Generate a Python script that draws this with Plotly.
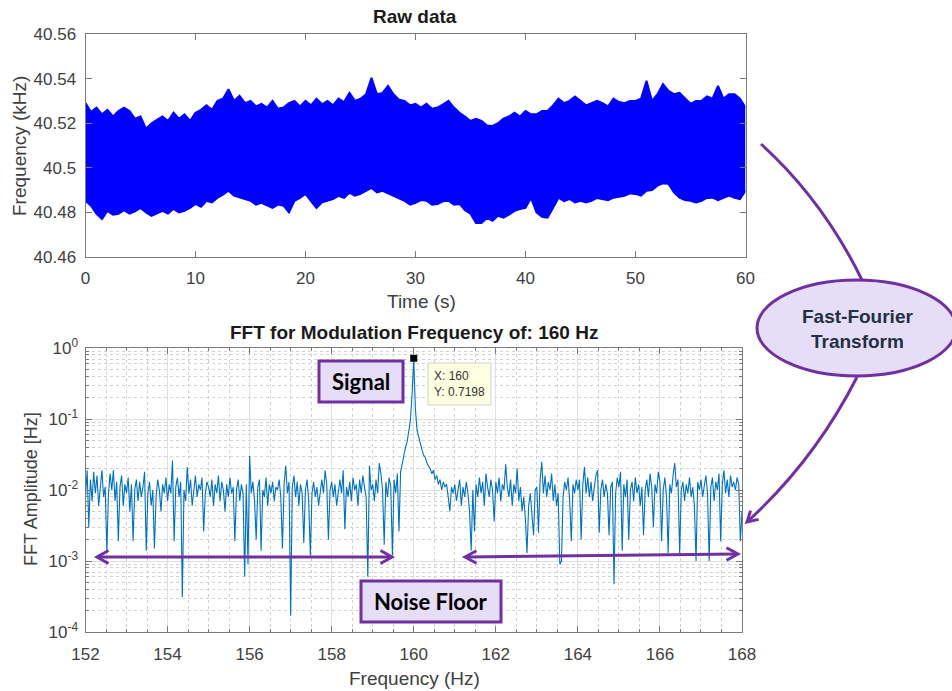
import numpy as np
import plotly.graph_objects as go

W, H = 952, 691

# ---------------- data: raw frequency record (envelope of the dense trace) -------------
raw_time_step = 0.5  # s
raw_upper = [
    40.529, 40.525, 40.527, 40.524, 40.526, 40.523, 40.5255, 40.527, 40.5255, 40.522,
    40.523, 40.5175, 40.520, 40.5215, 40.523, 40.521, 40.5247, 40.522, 40.524, 40.521,
    40.5247, 40.526, 40.528, 40.526, 40.530, 40.531, 40.5352, 40.530, 40.5323, 40.529,
    40.530, 40.5275, 40.5287, 40.527, 40.530, 40.5265, 40.527, 40.529, 40.530, 40.5275,
    40.530, 40.528, 40.531, 40.5285, 40.530, 40.528, 40.531, 40.5295, 40.5336, 40.530,
    40.531, 40.533, 40.5404, 40.533, 40.5336, 40.5367, 40.533, 40.5305, 40.530, 40.528,
    40.5287, 40.527, 40.5287, 40.5265, 40.527, 40.5285, 40.530, 40.527, 40.5247, 40.523,
    40.521, 40.522, 40.521, 40.519, 40.5188, 40.520, 40.522, 40.523, 40.5247, 40.523,
    40.5255, 40.524, 40.524, 40.5255, 40.5255, 40.528, 40.531, 40.529, 40.530, 40.532,
    40.530, 40.528, 40.529, 40.530, 40.529, 40.5275, 40.531, 40.5295, 40.529, 40.530,
    40.530, 40.531, 40.539, 40.530, 40.533, 40.5376, 40.5345, 40.533, 40.5336, 40.531,
    40.5287, 40.530, 40.530, 40.532, 40.531, 40.5367, 40.531, 40.533, 40.533, 40.531,
    40.527,
]
raw_lower = [
    40.4852, 40.483, 40.4794, 40.4771, 40.4807, 40.479, 40.4794, 40.481, 40.4794, 40.4805,
    40.482, 40.480, 40.4785, 40.4795, 40.4807, 40.4795, 40.4816, 40.480, 40.4807, 40.482,
    40.4838, 40.4825, 40.4852, 40.4845, 40.4866, 40.488, 40.4897, 40.4875, 40.4866, 40.486,
    40.4852, 40.4835, 40.4843, 40.483, 40.482, 40.4835, 40.483, 40.480, 40.4852, 40.4865,
    40.4883, 40.485, 40.482, 40.4845, 40.4852, 40.486, 40.4874, 40.4865, 40.4888, 40.4875,
    40.4883, 40.4895, 40.491, 40.489, 40.4897, 40.4885, 40.4874, 40.486, 40.4852, 40.4835,
    40.4843, 40.4855, 40.4852, 40.4835, 40.4838, 40.485, 40.4852, 40.4835, 40.4838, 40.481,
    40.4794, 40.4753, 40.4753, 40.4775, 40.4762, 40.4785, 40.4776, 40.479, 40.4807, 40.4815,
    40.482, 40.4865, 40.480, 40.478, 40.4776, 40.482, 40.4866, 40.485, 40.486, 40.4845,
    40.4852, 40.4845, 40.4852, 40.4865, 40.486, 40.4855, 40.4866, 40.487, 40.4874, 40.4885,
    40.4883, 40.4875, 40.4897, 40.490, 40.492, 40.493, 40.4928, 40.489, 40.4866, 40.4855,
    40.4852, 40.4845, 40.4852, 40.4865, 40.4866, 40.4855, 40.4866, 40.4875, 40.4866, 40.486,
    40.4897,
]
raw_time = [round(i * raw_time_step, 3) for i in range(len(raw_upper))]

# ---------------- data: FFT amplitude (x 1e-3 Hz), 0.04 Hz bins from 152 Hz -------------
fft_f0, fft_df = 152.0, 0.04
fft_milli = (
    [8, 19, 3, 14, 7, 18, 9, 16, 6, 12, 19, 8, 11, 1.3, 9, 17, 10, 19, 7, 13, 1.9, 11, 16, 6, 12]
    + [9, 15, 5, 12, 1.9, 10, 14, 7, 13, 8, 11, 18, 1.4, 9, 13, 6, 10, 1.5, 8, 14, 10, 5, 12, 9, 15]
    + [7, 12, 9, 26, 1.9, 11, 15, 8, 13, 0.31, 10, 7, 21, 9, 14, 6, 11, 16, 8, 12, 10, 15, 2.6, 9, 13]
    + [11, 8, 14, 6, 12, 9, 16, 7, 13, 10, 5, 12, 8, 15, 9, 11, 1.9, 10, 14, 7, 12, 9, 0.6, 12, 0.9]
    + [30, 9, 13, 7, 2.0, 11, 14, 1.4, 10, 8, 15, 6, 12, 9, 13, 7, 11, 10, 14, 8, 1.5, 12, 22, 9, 13]
    + [0.17, 11, 16, 8, 13, 6, 12, 9, 1.8, 10, 14, 7, 1.2, 9, 13, 8, 11, 6, 10, 14, 9, 19, 12, 2.0, 10]
    + [13, 8, 12, 6, 10, 14, 9, 19, 2.8, 11, 8, 13, 7, 15, 10, 12, 6, 14, 9, 16, 11, 8, 0.6, 22, 10]
    + [12, 7, 14, 9, 24, 17, 10, 1.7, 13, 8, 15, 11, 1.2, 14, 9, 17, 2.6, 18, 24, 28, 40, 48, 72, 98, 230]
    + [719.8, 140, 70, 56, 44, 37, 31, 29, 24, 22, 20, 17, 19, 14, 16, 12, 14, 10, 13, 11, 12, 8, 5, 11, 9]
    + [12, 7, 10, 14, 6, 11, 8, 13, 9, 5, 1.4, 10, 2.6, 12, 8, 15, 9, 13, 6, 17, 11, 8, 14, 10, 3.6]
    + [13, 9, 15, 7, 12, 10, 23, 11, 8, 14, 6, 12, 9, 20, 7, 11, 5, 8, 4, 1.3, 6, 9, 4, 2.3, 10]
    + [11, 2.5, 14, 25, 9, 16, 8, 13, 10, 17, 7, 12, 6, 9, 0.9, 1.0, 8, 13, 10, 15, 7, 1.9, 12, 9, 14]
    + [10, 14, 2.0, 12, 21, 9, 15, 8, 13, 7, 11, 16, 19, 2.5, 10, 14, 8, 12, 9, 2.3, 11, 13, 0.47, 9, 15]
    + [11, 18, 1.4, 12, 8, 14, 2.0, 10, 13, 7, 15, 9, 12, 6, 11, 2.3, 10, 14, 8, 17, 11, 3.0, 12, 9, 18]
    + [13, 1.9, 10, 15, 8, 1.3, 12, 9, 16, 24, 11, 14, 1.3, 10, 13, 7, 12, 9, 15, 8, 11, 6, 1.0, 13, 10]
    + [14, 8, 12, 16, 9, 1.0, 11, 15, 7, 13, 10, 17, 1.9, 12, 19, 9, 14, 8, 16, 11, 13, 10, 15, 12, 1.9]
    + [5]
)
fft_amp = [v / 1000.0 for v in fft_milli]
fft_freq = [round(fft_f0 + i * fft_df, 4) for i in range(len(fft_amp))]

peak_x, peak_y = 160, 0.7198

raw_xticks = [0, 10, 20, 30, 40, 50, 60]
raw_yticks = [40.46, 40.48, 40.50, 40.52, 40.54, 40.56]
raw_yticktext = ["40.46", "40.48", "40.5", "40.52", "40.54", "40.56"]
fft_xticks = [152, 154, 156, 158, 160, 162, 164, 166, 168]
fft_yticks = [1e-4, 1e-3, 1e-2, 1e-1, 1]
fft_yticktext = ["10<sup>-4</sup>", "10<sup>-3</sup>", "10<sup>-2</sup>", "10<sup>-1</sup>", "10<sup>0</sup>"]
fft_yminor = [m * 10.0 ** e for e in range(-4, 0) for m in range(2, 10)]

# ---------------- helpers (pixel -> paper) ----------------
def px(x):
    return x / W

def py(y):
    return 1 - y / H

def path_px(cmds):
    out = []
    for c in cmds:
        op, pts = c[0], c[1:]
        coords = []
        for i in range(0, len(pts), 2):
            coords.append(f"{px(pts[i]):.5f},{py(pts[i+1]):.5f}")
        out.append(op + " " + " ".join(coords))
    return " ".join(out)

FONT = "Liberation Sans, Arial, sans-serif"
TICKC = "#404040"
AXC = "#7a7a7a"
BLUE = "#0000FF"
FFTC = "#0072BD"
PURPLE = "#7030A0"
LAV = "#E6DDF8"

fig = go.Figure()

# raw data band
fig.add_trace(go.Scatter(x=raw_time, y=raw_lower, mode="lines",
                         line=dict(color=BLUE, width=2), xaxis="x", yaxis="y",
                         showlegend=False, hoverinfo="skip"))
fig.add_trace(go.Scatter(x=raw_time, y=raw_upper, mode="lines", fill="tonexty",
                         fillcolor=BLUE, line=dict(color=BLUE, width=2),
                         xaxis="x", yaxis="y", showlegend=False, hoverinfo="skip"))

# FFT
fig.add_trace(go.Scatter(x=fft_freq, y=fft_amp, mode="lines",
                         line=dict(color=FFTC, width=1.1), xaxis="x2", yaxis="y2",
                         showlegend=False))
fig.add_trace(go.Scatter(x=[peak_x], y=[peak_y], mode="markers",
                         marker=dict(symbol="square", size=7, color="black"),
                         xaxis="x2", yaxis="y2", showlegend=False))

tickfont = dict(family=FONT, size=17, color=TICKC)
common = dict(showline=True, linecolor=AXC, linewidth=1, mirror="ticks",
              ticks="inside", ticklen=6, tickcolor=AXC, tickfont=tickfont,
              zeroline=False, fixedrange=True, automargin=False)

layout = dict(
    width=W, height=H,
    margin=dict(l=0, r=0, t=0, b=0, pad=0, autoexpand=False),
    paper_bgcolor="white", plot_bgcolor="white",
    xaxis=dict(domain=[px(85.5), px(745.5)], range=[0, 60], tickvals=raw_xticks,
               showgrid=False, anchor="y", ticklabelstandoff=6, **common),
    yaxis=dict(domain=[py(257), py(34)], range=[40.46, 40.56], tickvals=raw_yticks,
               ticktext=raw_yticktext, showgrid=False, anchor="x",
               ticklabelstandoff=5, **common),
    xaxis2=dict(domain=[px(85.5), px(742)], range=[152, 168], tickvals=fft_xticks,
                showgrid=True, gridcolor="#dedede", gridwidth=1, anchor="y2",
                ticklabelstandoff=7,
                minor=dict(dtick=0.5, tick0=152, showgrid=True, gridcolor="#d2d2d2",
                           griddash="dot", ticks="inside", ticklen=3, tickcolor=AXC),
                **common),
    yaxis2=dict(domain=[py(632), py(348)], type="log", range=[-4, 0],
                tickvals=fft_yticks, ticktext=fft_yticktext,
                showgrid=True, gridcolor="#dedede", gridwidth=1, anchor="x2",
                ticklabelstandoff=3,
                minor=dict(tickvals=fft_yminor, showgrid=True, gridcolor="#d2d2d2",
                           griddash="dot", ticks="inside", ticklen=3, tickcolor=AXC),
                **common),
)
fig.update_layout(**layout)

shapes = []
shapes.append(dict(type="rect", xref="paper", yref="paper",
                   x0=px(319), x1=px(403), y0=py(402), y1=py(361),
                   fillcolor=LAV, line=dict(color=PURPLE, width=3)))
shapes.append(dict(type="rect", xref="paper", yref="paper",
                   x0=px(361), x1=px(501), y0=py(622), y1=py(581),
                   fillcolor=LAV, line=dict(color=PURPLE, width=3)))
shapes.append(dict(type="rect", xref="paper", yref="paper",
                   x0=px(428), x1=px(491), y0=py(405), y1=py(363),
                   fillcolor="#FFFFE1", line=dict(color="#cfcfcf", width=1)))
shapes.append(dict(type="circle", xref="paper", yref="paper",
                   x0=px(757), x1=px(956), y0=py(376), y1=py(280),
                   fillcolor=LAV, line=dict(color=PURPLE, width=3)))
line_style = dict(color=PURPLE, width=3)
shapes.append(dict(type="path", xref="paper", yref="paper", line=line_style,
                   path=path_px([("M", 761, 144), ("Q", 823, 200, 862, 280)])))
shapes.append(dict(type="path", xref="paper", yref="paper", line=line_style,
                   path=path_px([("M", 857, 377), ("Q", 815, 460, 747, 522)])))
shapes.append(dict(type="path", xref="paper", yref="paper", line=line_style,
                   path=path_px([("M", 750.6, 510.6), ("L", 747, 522), ("L", 758.7, 519.4)])))
shapes.append(dict(type="path", xref="paper", yref="paper", line=line_style,
                   path=path_px([("M", 98, 557), ("L", 391, 557)])))
shapes.append(dict(type="path", xref="paper", yref="paper", line=line_style,
                   path=path_px([("M", 108.5, 550.5), ("L", 97, 557), ("L", 108.5, 563.5)])))
shapes.append(dict(type="path", xref="paper", yref="paper", line=line_style,
                   path=path_px([("M", 380.5, 550.5), ("L", 392, 557), ("L", 380.5, 563.5)])))
shapes.append(dict(type="path", xref="paper", yref="paper", line=line_style,
                   path=path_px([("M", 466, 557), ("L", 737, 554)])))
shapes.append(dict(type="path", xref="paper", yref="paper", line=line_style,
                   path=path_px([("M", 476.5, 550.8), ("L", 465, 557), ("L", 476.5, 563.3)])))
shapes.append(dict(type="path", xref="paper", yref="paper", line=line_style,
                   path=path_px([("M", 726.5, 547.8), ("L", 738, 554), ("L", 726.5, 560.3)])))
fig.update_layout(shapes=shapes)

def ann(text, x, y, size, color="#262626", family=FONT, textangle=0, xanchor="center",
        align="center"):
    return dict(text=text, x=px(x), y=py(y), xref="paper", yref="paper",
                showarrow=False, xanchor=xanchor, yanchor="middle", align=align,
                textangle=textangle, font=dict(family=family, size=size, color=color))

anns = [
    ann("<b>Raw data</b>", 415, 17, 19, color="#1a1a1a"),
    ann("Time (s)", 421, 301, 19, color=TICKC),
    ann("Frequency (kHz)", 19, 146, 19, color=TICKC, textangle=-90),
    ann("<b>FFT for Modulation Frequency of: 160 Hz</b>", 414, 332, 19, color="#1a1a1a"),
    ann("Frequency (Hz)", 414, 678, 19, color=TICKC),
    ann("FFT Amplitude [Hz]", 31, 489, 18, color=TICKC, textangle=-90),
    ann("<b>Signal</b>", 361, 381.5, 22, color="black", family="Lato, Carlito, sans-serif"),
    ann("<b>Noise Floor</b>", 431, 601.5, 22, color="black", family="Lato, Carlito, sans-serif"),
    ann("<b>Fast-Fourier<br>Transform</b>", 857, 329, 19, color="#1f3244"),
    ann("X: 160<br>Y: 0.7198", 431.5, 384, 12, color="#333333", xanchor="left", align="left"),
]
fig.update_layout(annotations=anns)

fig.write_html("out.html")
